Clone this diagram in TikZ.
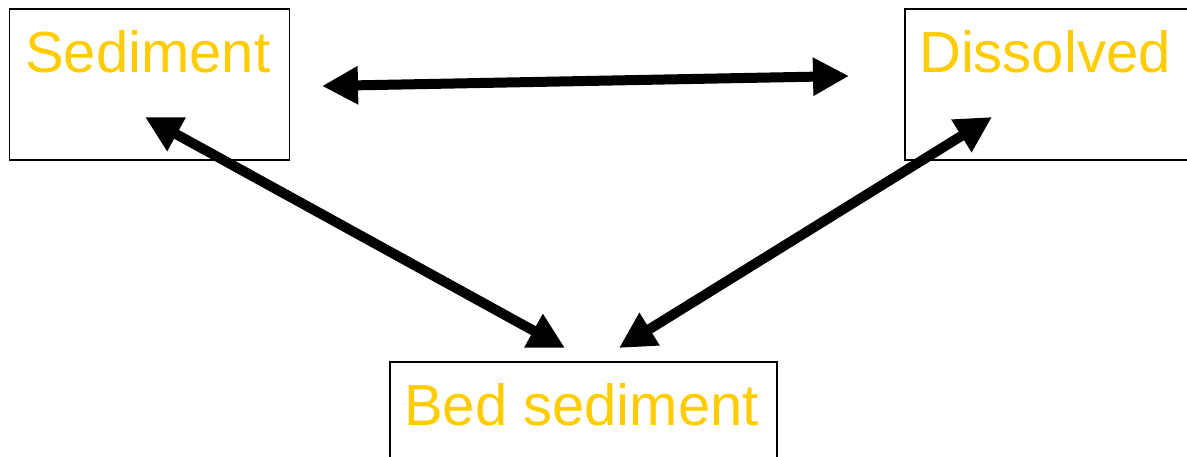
\documentclass[tikz,border=0pt]{standalone}
\usepackage{fontspec}
\setmainfont{Liberation Sans}
\usetikzlibrary{arrows.meta}
\definecolor{labelgold}{HTML}{FFCC00}
\begin{document}
\begin{tikzpicture}[x=1pt,y=-1pt,
  box/.style={draw=black,line width=1.6pt,rectangle,inner sep=0pt,anchor=north west},
  label/.style={text=labelgold,inner sep=0pt,anchor=base west,font=\fontsize{58}{61}\selectfont},
  flow/.style={line width=10pt,{Triangle[length=36pt,width=36pt]}-{Triangle[length=36pt,width=36pt]}}]
  \useasboundingbox (0,0) rectangle (1187,456);
  % boxes
  \node[box,minimum width=280pt,minimum height=151pt] (sedbox) at (8.5,8) {};
  \node[box,minimum width=320pt,minimum height=151pt] (disbox) at (904,8) {};
  \node[box,minimum width=387pt,minimum height=120pt] (bedbox) at (389,361) {};
  % labels
  \node[label] (sed) at (25,72) {Sediment};
  \node[label] (dis) at (919,72) {Dissolved};
  \node[label] (bed) at (404,425) {Bed sediment};
  % arrow end points
  \coordinate (sedR) at (322,86);
  \coordinate (disL) at (849,76);
  \coordinate (sedB) at (145,117);
  \coordinate (bedL) at (565,348);
  \coordinate (disB) at (992,117);
  \coordinate (bedR) at (619,348);
  % exchanges
  \draw[flow] (sedR) -- (disL);
  \draw[flow] (sedB) -- (bedL);
  \draw[flow] (disB) -- (bedR);
\end{tikzpicture}
\end{document}
